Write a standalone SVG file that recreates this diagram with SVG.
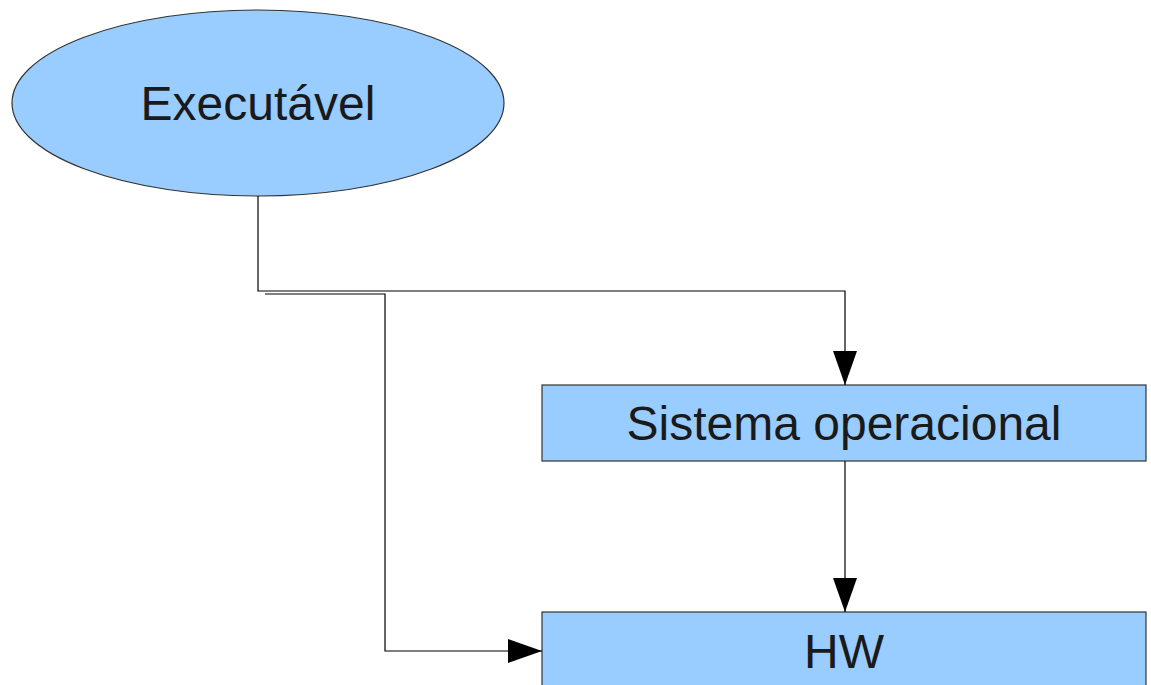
<svg xmlns="http://www.w3.org/2000/svg" width="1151" height="685" viewBox="0 0 1151 685">
<defs>
<style>
.node{fill:#99ccff;stroke:#333;stroke-width:1.2}
.lbl{font-family:"Liberation Sans",Arial,sans-serif;font-size:48px;fill:#1a1a1a;text-anchor:middle}
.conn{fill:none;stroke:#000;stroke-width:1.2}
</style>
<marker id="arr" markerWidth="34" markerHeight="24" refX="34" refY="12" orient="auto" markerUnits="userSpaceOnUse">
<path d="M0,0 L34,12 L0,24 Z" fill="#000"/>
</marker>
</defs>
<rect width="1151" height="685" fill="#fff"/>
<g id="executavel">
<ellipse class="node" cx="258" cy="103" rx="246" ry="93"/>
<text class="lbl" x="258" y="120">Executável</text>
</g>
<g id="so">
<rect class="node" x="542" y="385" width="604" height="76"/>
<text class="lbl" x="844" y="440">Sistema operacional</text>
</g>
<g id="hw">
<rect class="node" x="542" y="612" width="604" height="90"/>
<text class="lbl" x="844" y="668">HW</text>
</g>
<g id="connectors">
<path class="conn" d="M258,196 L258,291 L845,291 L845,385" marker-end="url(#arr)"/>
<path class="conn" d="M265,294 L385,294 L385,651 L542,651" marker-end="url(#arr)"/>
<path class="conn" d="M845,461 L845,612" marker-end="url(#arr)"/>
</g>
</svg>
